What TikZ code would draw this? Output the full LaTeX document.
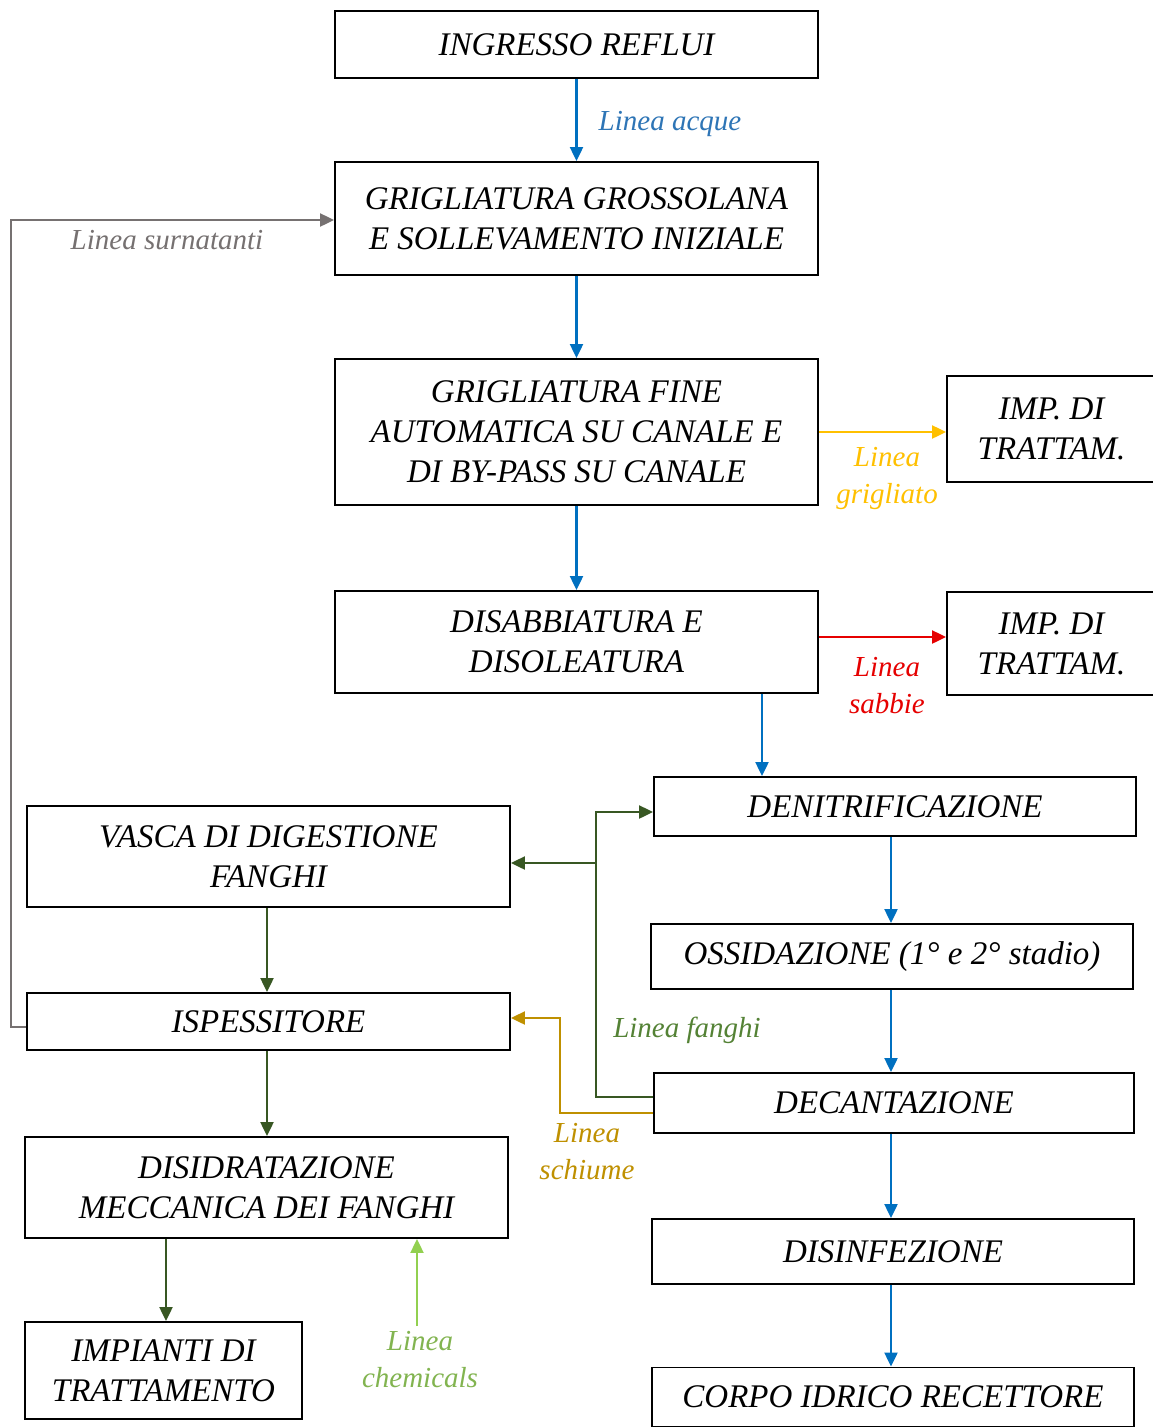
\documentclass[tikz,border=0pt]{standalone}
\usepackage{fontspec}
\setmainfont{Liberation Serif}
\usetikzlibrary{arrows.meta}
\definecolor{acque}{RGB}{0,112,192}
\definecolor{acquetxt}{RGB}{46,117,182}
\definecolor{grigl}{RGB}{255,192,0}
\definecolor{sabbie}{RGB}{230,0,0}
\definecolor{fanghi}{RGB}{56,87,35}
\definecolor{fanghitxt}{RGB}{84,130,53}
\definecolor{schiume}{RGB}{191,144,0}
\definecolor{chem}{RGB}{146,208,80}
\definecolor{chemtxt}{RGB}{130,180,80}
\definecolor{surn}{RGB}{118,113,113}
\tikzset{
  box/.style={draw, line width=1.9pt, align=center, inner sep=0pt,
    font=\fontsize{33}{40}\selectfont\itshape},
  flow/.style={line width=2.2pt, -{Triangle[length=14pt,width=13pt]}},
  lbl/.style={align=center, inner sep=0pt, font=\fontsize{29}{37}\selectfont\itshape},
}
\begin{document}
\begin{tikzpicture}[x=1pt,y=-1pt]
\useasboundingbox (0,0) rectangle (1152,1427);
\fill[white] (0,0) rectangle (1152,1427);

% process boxes
\node[box, minimum width=483pt, minimum height=67pt] (ingresso) at (576.5,44.5) {INGRESSO REFLUI};
\node[box, minimum width=483pt, minimum height=113pt] (grossolana) at (576.5,218.5) {GRIGLIATURA GROSSOLANA\\E SOLLEVAMENTO INIZIALE};
\node[box, minimum width=483pt, minimum height=146pt] (fine) at (576.5,432) {GRIGLIATURA FINE\\AUTOMATICA SU CANALE E\\DI BY-PASS SU CANALE};
\node[box, minimum width=209pt, minimum height=106pt] (imp1) at (1051.5,429) {IMP. DI\\TRATTAM.};
\node[box, minimum width=483pt, minimum height=102pt] (disab) at (576.5,642) {DISABBIATURA E\\DISOLEATURA};
\node[box, minimum width=209pt, minimum height=103pt] (imp2) at (1051.5,643.5) {IMP. DI\\TRATTAM.};
\node[box, minimum width=482pt, minimum height=59pt] (denitr) at (895,806.5) {DENITRIFICAZIONE};
\node[box, minimum width=483pt, minimum height=101pt] (vasca) at (268.5,856.5) {VASCA DI DIGESTIONE\\FANGHI};
\node[box, minimum width=482pt, minimum height=65pt] (ossid) at (892,956.5) {OSSIDAZIONE (1° e 2° stadio)};
\node[box, minimum width=483pt, minimum height=57pt] (ispess) at (268.5,1021.5) {ISPESSITORE};
\node[box, minimum width=480pt, minimum height=60pt] (decant) at (894,1103) {DECANTAZIONE};
\node[box, minimum width=483pt, minimum height=101pt] (disidr) at (266.5,1187.5) {DISIDRATAZIONE\\MECCANICA DEI FANGHI};
\node[box, minimum width=482pt, minimum height=65pt] (disinf) at (893,1251.5) {DISINFEZIONE};
\node[box, minimum width=277pt, minimum height=97pt] (impianti) at (163.5,1370.5) {IMPIANTI DI\\TRATTAMENTO};
\node[box, minimum width=482pt, minimum height=59pt] (corpo) at (893,1397) {CORPO IDRICO RECETTORE};

% connector end points
\coordinate (disabout) at ([yshift=5pt]disab.east);
\coordinate (denitrin) at ([yshift=-5.5pt]denitr.west);
\coordinate (vascain) at ([yshift=-6.5pt]vasca.east);
\coordinate (ispessin) at ([yshift=3.5pt]ispess.east);
\coordinate (ispessout) at ([yshift=-5.5pt]ispess.west);
\coordinate (fanghiout) at ([yshift=6pt]decant.west);
\coordinate (schiumeout) at ([yshift=-10pt]decant.west);
\coordinate (surnin) at ([yshift=-1.5pt]grossolana.west);

% water line
\draw[flow, acque] (ingresso.south) -- (grossolana.north);
\draw[flow, acque] (grossolana.south) -- (fine.north);
\draw[flow, acque] (fine.south) -- (disab.north);
\draw[flow, acque] ([xshift=185.5pt]disab.south) -- ([xshift=185.5pt]disab.south |- denitr.north);
\draw[flow, acque] ([xshift=-4pt]denitr.south) -- ([xshift=-4pt]denitr.south |- ossid.north);
\draw[flow, acque] (ossid.south -| 891,0) -- (decant.north -| 891,0);
\draw[flow, acque] (decant.south -| 891,0) -- (disinf.north -| 891,0);
\draw[flow, acque] (disinf.south -| 891,0) -- (corpo.north -| 891,0);
\node[lbl, text=acquetxt] (lacque) at (670,124) {Linea acque};

% screenings and sand lines
\draw[flow, grigl] (fine.east) -- (imp1.west |- fine.east);
\node[lbl, text=grigl] (lgrigl) at (887,478) {Linea\\grigliato};
\draw[flow, sabbie] (disabout) -- (imp2.west |- disabout);
\node[lbl, text=sabbie] (lsabbie) at (887,686) {Linea\\sabbie};

% sludge line
\draw[flow, fanghi] (fanghiout) -- ++(-57,0) coordinate (fj) |- (denitrin);
\draw[flow, fanghi] (fj |- vascain) -- (vascain);
\node[lbl, text=fanghitxt] (lfanghi) at (687,1030) {Linea fanghi};

% scum line
\draw[flow, schiume] (schiumeout) -- ++(-93,0) |- (ispessin);
\node[lbl, text=schiume] (lschiume) at (587,1152) {Linea\\schiume};

% sludge treatment chain
\draw[flow, fanghi] (vasca.south -| 267,0) -- (ispess.north -| 267,0);
\draw[flow, fanghi] (ispess.south -| 267,0) -- (disidr.north -| 267,0);
\draw[flow, fanghi] (disidr.south -| 166,0) -- (impianti.north -| 166,0);

% chemicals feed
\coordinate (chemin) at (417,1326);
\draw[flow, chem] (chemin) -- (chemin |- disidr.south);
\node[lbl, text=chemtxt] (lchem) at (420,1360) {Linea\\chemicals};

% supernatant return
\draw[flow, surn] (ispessout) -| (11,220) -- (surnin);
\node[lbl, text=surn] (lsurn) at (167,240) {Linea surnatanti};
\end{tikzpicture}
\end{document}
